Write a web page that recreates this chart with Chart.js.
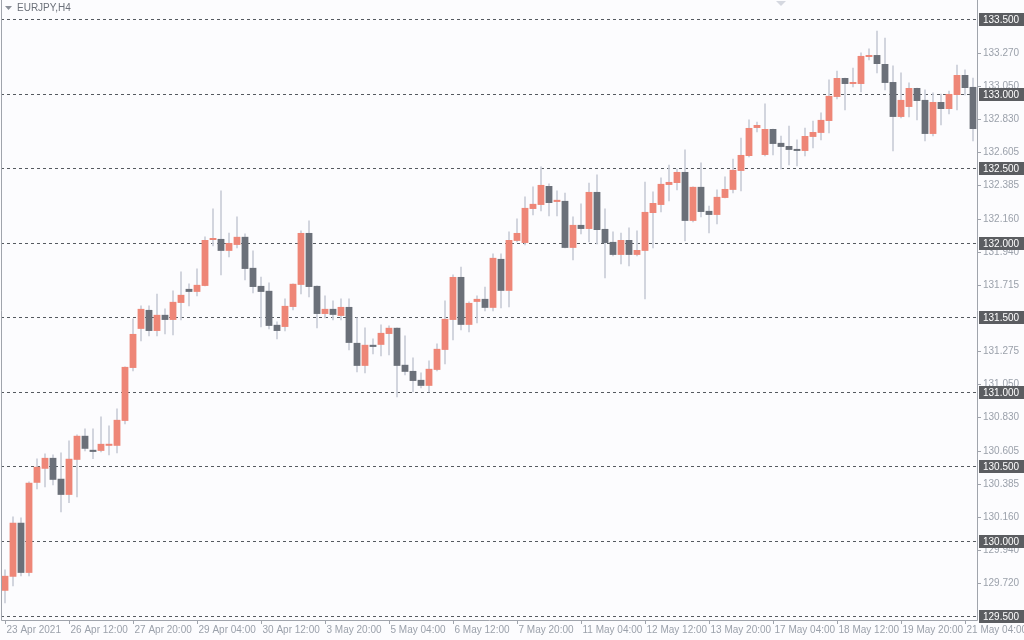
<!DOCTYPE html>
<html>
<head>
<meta charset="utf-8">
<script src="https://cdn.jsdelivr.net/npm/chart.js@4/dist/chart.umd.min.js"></script>
<style>
html, body { margin: 0; padding: 0; background: #fcfcfe; }
#wrap { width: 1024px; height: 640px; position: relative; }
</style>
</head>
<body>
<div id="wrap"><canvas id="chart"></canvas></div>
<script>
// EURJPY H4 candles, 23 Apr - 21 May 2021
var opens = [
	129.666, 129.760, 130.122, 129.786, 130.390, 130.484, 130.557, 130.417, 130.309, 130.544,
	130.705, 130.611, 130.604, 130.638, 130.638, 130.805, 131.160, 131.422, 131.549, 131.408,
	131.516, 131.482, 131.596, 131.690, 131.670, 131.710, 132.018, 132.025, 131.945, 131.985,
	132.039, 131.831, 131.710, 131.677, 131.449, 131.435, 131.569, 131.717, 132.065, 131.710,
	131.522, 131.556, 131.509, 131.569, 131.328, 131.174, 131.315, 131.315, 131.388, 131.429,
	131.181, 131.140, 131.080, 131.040, 131.147, 131.281, 131.482, 131.770, 131.449, 131.603,
	131.623, 131.563, 131.891, 131.677, 132.012, 131.998, 132.226, 132.253, 132.380, 132.273,
	132.280, 131.965, 132.119, 132.092, 132.340, 132.092, 132.005, 131.918, 132.018, 131.918,
	131.945, 132.199, 132.253, 132.387, 132.400, 132.474, 132.146, 132.374, 132.213, 132.186,
	132.300, 132.354, 132.481, 132.581, 132.769, 132.588, 132.762, 132.669, 132.648, 132.628,
	132.615, 132.709, 132.736, 132.816, 132.977, 133.104, 133.064, 133.064, 133.245, 133.258,
	133.198, 133.077, 132.843, 132.910, 133.037, 132.957, 132.729, 132.943, 132.896, 132.990,
	133.124, 133.044
];
var highs = [
	129.807, 130.162, 130.155, 130.396, 130.551, 130.584, 130.577, 130.591, 130.671, 130.711,
	130.752, 130.752, 130.832, 130.772, 130.886, 131.167, 131.489, 131.576, 131.576, 131.656,
	131.556, 131.677, 131.804, 131.724, 131.824, 132.039, 132.226, 132.347, 132.065, 132.173,
	132.059, 131.945, 131.770, 131.730, 131.469, 131.623, 131.724, 132.079, 132.146, 131.710,
	131.643, 131.610, 131.623, 131.623, 131.496, 131.429, 131.355, 131.449, 131.442, 131.429,
	131.375, 131.228, 131.127, 131.207, 131.321, 131.610, 131.784, 131.837, 131.603, 131.643,
	131.703, 131.925, 131.925, 132.072, 132.159, 132.307, 132.374, 132.508, 132.394, 132.347,
	132.333, 132.173, 132.260, 132.400, 132.454, 132.226, 132.072, 132.065, 132.099, 132.079,
	132.407, 132.340, 132.434, 132.521, 132.494, 132.622, 132.374, 132.535, 132.246, 132.354,
	132.441, 132.561, 132.702, 132.823, 132.809, 132.930, 132.762, 132.715, 132.782, 132.689,
	132.769, 132.816, 132.870, 133.091, 133.151, 133.104, 133.171, 133.272, 133.299, 133.419,
	133.372, 133.185, 133.138, 133.071, 133.037, 133.024, 133.004, 132.997, 133.017, 133.191,
	133.158, 133.104
];
var lows = [
	129.585, 129.699, 129.766, 129.766, 130.349, 130.363, 130.376, 130.195, 130.256, 130.296,
	130.604, 130.551, 130.597, 130.577, 130.591, 130.785, 131.140, 131.341, 131.375, 131.375,
	131.388, 131.382, 131.482, 131.576, 131.643, 131.710, 131.978, 131.784, 131.904, 131.965,
	131.750, 131.663, 131.435, 131.422, 131.355, 131.408, 131.549, 131.656, 131.636, 131.429,
	131.496, 131.482, 131.482, 131.281, 131.134, 131.127, 131.254, 131.241, 131.248, 130.966,
	131.114, 131.000, 131.026, 131.000, 131.140, 131.187, 131.348, 131.415, 131.402, 131.462,
	131.543, 131.543, 131.563, 131.569, 132.005, 131.985, 132.186, 132.213, 132.179, 132.179,
	131.965, 131.884, 132.059, 132.005, 131.992, 131.764, 131.911, 131.857, 131.844, 131.911,
	131.623, 131.965, 132.206, 132.280, 132.354, 132.012, 132.139, 132.173, 132.065, 132.126,
	132.300, 132.333, 132.347, 132.575, 132.742, 132.581, 132.588, 132.494, 132.521, 132.514,
	132.581, 132.635, 132.689, 132.736, 132.963, 132.890, 133.044, 133.010, 133.225, 133.138,
	133.024, 132.615, 132.836, 132.843, 132.823, 132.682, 132.715, 132.789, 132.863, 132.890,
	132.990, 132.682
];
var closes = [
	129.766, 130.122, 129.786, 130.390, 130.497, 130.557, 130.410, 130.309, 130.551, 130.705,
	130.618, 130.597, 130.651, 130.644, 130.812, 131.167, 131.388, 131.556, 131.408, 131.516,
	131.482, 131.603, 131.650, 131.670, 131.717, 132.018, 132.025, 131.945, 131.998, 132.039,
	131.824, 131.703, 131.670, 131.442, 131.408, 131.576, 131.724, 132.065, 131.703, 131.522,
	131.556, 131.516, 131.569, 131.328, 131.174, 131.315, 131.301, 131.395, 131.429, 131.174,
	131.134, 131.073, 131.040, 131.154, 131.288, 131.489, 131.770, 131.449, 131.596, 131.623,
	131.563, 131.898, 131.677, 132.018, 132.065, 132.233, 132.260, 132.387, 132.266, 132.287,
	131.965, 132.119, 132.092, 132.340, 132.085, 131.998, 131.918, 132.018, 131.918, 131.951,
	132.206, 132.266, 132.394, 132.407, 132.474, 132.146, 132.374, 132.206, 132.186, 132.307,
	132.360, 132.488, 132.588, 132.769, 132.789, 132.762, 132.662, 132.642, 132.622, 132.615,
	132.715, 132.742, 132.823, 132.984, 133.104, 133.064, 133.071, 133.252, 133.252, 133.198,
	133.071, 132.843, 132.957, 133.037, 132.950, 132.729, 132.943, 132.896, 132.997, 133.124,
	133.037, 132.762
];
var timeLabels = [
	'23 Apr 2021', '26 Apr 12:00', '27 Apr 20:00', '29 Apr 04:00', '30 Apr 12:00', '3 May 20:00',
	'5 May 04:00', '6 May 12:00', '7 May 20:00', '11 May 04:00', '12 May 12:00', '13 May 20:00',
	'17 May 04:00', '18 May 12:00', '19 May 20:00', '21 May 04:00'
];
var labelEvery = 8;
var majorLevels = [129.5, 130.0, 130.5, 131.0, 131.5, 132.0, 132.5, 133.0, 133.5];
var minorTicks = [129.720, 129.940, 130.160, 130.385, 130.605, 130.830, 131.050, 131.275,
	131.715, 131.940, 132.160, 132.385, 132.605, 132.830, 133.050, 133.270];

var upColor = '#ee8677';
var downColor = '#6b7079';
var wickColor = '#c9cdd8';
var font = '10px "Liberation Sans", Arial, sans-serif';

var categories = opens.map(function(o, i) { return i; });
var bodies = opens.map(function(o, i) { return [o, closes[i]]; });
var wicks = lows.map(function(l, i) { return [l, highs[i]]; });

var axesPlugin = {
	id: 'mt4axes',
	beforeDatasetsDraw: function(chart) {
		var ctx = chart.ctx, a = chart.chartArea, y = chart.scales.y;
		ctx.save();
		ctx.strokeStyle = '#555a60';
		ctx.lineWidth = 1;
		ctx.setLineDash([3, 3]);
		majorLevels.forEach(function(v) {
			var py = Math.round(y.getPixelForValue(v)) + 0.5;
			ctx.beginPath();
			ctx.moveTo(a.left, py);
			ctx.lineTo(a.right, py);
			ctx.stroke();
		});
		ctx.restore();
	},
	afterDraw: function(chart) {
		var ctx = chart.ctx, a = chart.chartArea, y = chart.scales.y, x = chart.scales.x;
		ctx.save();
		// frame
		ctx.strokeStyle = '#a0a4ac';
		ctx.lineWidth = 1;
		ctx.beginPath();
		ctx.moveTo(a.left + 0.5, 0);
		ctx.lineTo(a.left + 0.5, a.bottom + 0.5);
		ctx.lineTo(a.right + 0.5, a.bottom + 0.5);
		ctx.lineTo(a.right + 0.5, 0);
		ctx.stroke();
		ctx.font = font;
		ctx.textBaseline = 'middle';
		// minor price ticks
		ctx.fillStyle = '#9ba1ab';
		minorTicks.forEach(function(v) {
			var py = Math.round(y.getPixelForValue(v)) + 0.5;
			ctx.beginPath();
			ctx.moveTo(a.right, py);
			ctx.lineTo(a.right + 4, py);
			ctx.stroke();
			ctx.fillText(v.toFixed(3), a.right + 6, py);
		});
		// level boxes
		majorLevels.forEach(function(v) {
			var py = Math.round(y.getPixelForValue(v));
			ctx.fillStyle = '#5b5d61';
			ctx.fillRect(a.right + 2, py - 6, 45, 13);
			ctx.fillStyle = '#ffffff';
			ctx.fillText(v.toFixed(3), a.right + 6, py + 1);
		});
		// time labels
		ctx.fillStyle = '#9ba1ab';
		ctx.textBaseline = 'top';
		timeLabels.forEach(function(t, k) {
			var px = Math.round(x.getPixelForValue(k * labelEvery)) + 0.5;
			ctx.beginPath();
			ctx.moveTo(px, a.bottom);
			ctx.lineTo(px, a.bottom + 4);
			ctx.stroke();
			ctx.fillText(t, px + 1, a.bottom + 5);
		});
		// symbol caption
		ctx.fillStyle = '#8a8f98';
		ctx.beginPath();
		ctx.moveTo(5, 6);
		ctx.lineTo(12, 6);
		ctx.lineTo(8.5, 10);
		ctx.closePath();
		ctx.fill();
		ctx.fillStyle = '#6b7079';
		ctx.fillText('EURJPY,H4', 17, 3);
		ctx.fillStyle = '#d5d8e0';
		ctx.beginPath();
		ctx.moveTo(776, 1);
		ctx.lineTo(786, 1);
		ctx.lineTo(781, 6);
		ctx.closePath();
		ctx.fill();
		ctx.restore();
	}
};

var colorOf = function(c) {
	var i = c.dataIndex;
	return closes[i] >= opens[i] ? upColor : downColor;
};

new Chart(document.getElementById('chart'), {
	type: 'bar',
	data: {
		labels: categories,
		datasets: [{
			label: 'wick',
			data: wicks,
			backgroundColor: wickColor,
			barThickness: 1,
			grouped: false,
			order: 2
		}, {
			label: 'body',
			data: bodies,
			backgroundColor: colorOf,
			barPercentage: 0.85,
			categoryPercentage: 1,
			minBarLength: 2,
			grouped: false,
			order: 1
		}]
	},
	options: {
		responsive: true,
		maintainAspectRatio: false,
		animation: false,
		layout: { padding: { left: 1, right: 47, top: 0, bottom: 20 } },
		plugins: { legend: { display: false }, tooltip: { enabled: false } },
		scales: {
			x: { display: false, offset: true },
			y: { display: false, min: 129.47, max: 133.627 }
		}
	},
	plugins: [axesPlugin]
});
</script>
</body>
</html>
